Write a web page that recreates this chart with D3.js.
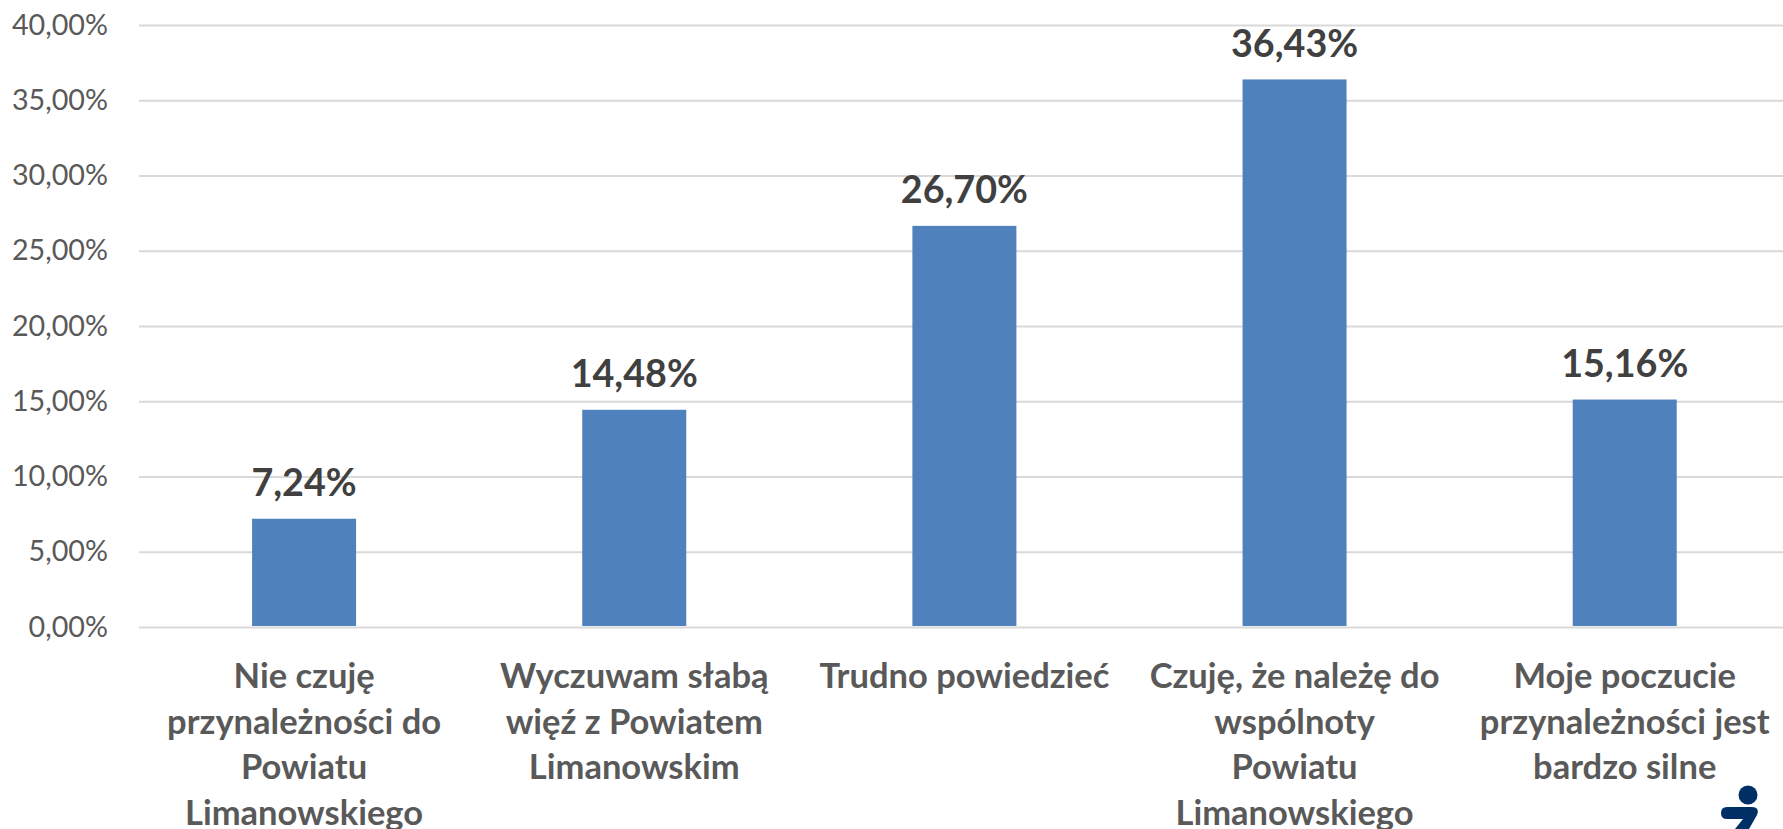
<!DOCTYPE html>
<!-- bar chart: sense of belonging to Powiat Limanowski -->
<html>
<head>
<meta charset="utf-8">
<style>
  html, body { margin: 0; padding: 0; background: #fff; overflow: hidden; }
  text { font-family: Lato, "Open Sans", sans-serif; }
</style>
</head>
<body>
<div id="graph_div"></div>

<script src="https://d3js.org/d3.v7.min.js"></script>

<script>

// data
const categories = [
  ["Nie czuję", "przynależności do", "Powiatu", "Limanowskiego"],
  ["Wyczuwam słabą", "więź z Powiatem", "Limanowskim"],
  ["Trudno powiedzieć"],
  ["Czuję, że należę do", "wspólnoty", "Powiatu", "Limanowskiego"],
  ["Moje poczucie", "przynależności jest", "bardzo silne"]
];
const values = [7.24, 14.48, 26.70, 36.43, 15.16];
const value_labels = ["7,24%", "14,48%", "26,70%", "36,43%", "15,16%"];
const y_ticks = [0, 5, 10, 15, 20, 25, 30, 35, 40];

let container_width = 1783,
    container_height = 829,
    margin = {top: 25, left: 139, bottom: 627};

let svg = d3.select("#graph_div")
  .append("svg")
    .attr("width", container_width)
    .attr("height", container_height)
    .style("display", "block");

let x = d3.scaleBand()
  .domain(d3.range(categories.length))
  .range([margin.left, margin.left + 1650.8])
  .paddingInner(0.685)
  .paddingOuter(0.3425);

let y = d3.scaleLinear()
  .domain([0, 40])
  .range([margin.bottom, margin.top]);

// y axis with gridlines
let y_axis = svg.append("g")
  .attr("id", "y_axis")
  .attr("transform", "translate(" + margin.left + ",0)")
  .call(d3.axisLeft(y)
    .tickValues(y_ticks)
    .tickSize(-(container_width - margin.left))
    .tickPadding(31)
    .tickFormat(function(d){ return d3.format(".2f")(d).replace(".", ",") + "%"; }));

y_axis.select(".domain").remove();
y_axis.selectAll("line")
  .attr("stroke", "#d9d9d9")
  .attr("stroke-width", 2);
y_axis.selectAll("text")
  .attr("fill", "#595959")
  .style("font-size", "28.7px")
  .style("font-family", "Lato, sans-serif");

// bars
svg.append("g")
  .selectAll("rect")
  .data(values)
  .enter()
  .append("rect")
    .attr("x", function(d, i){ return x(i); })
    .attr("y", function(d){ return y(d) + 0.7; })
    .attr("width", x.bandwidth())
    .attr("height", function(d){ return y(0) - y(d) - 1.7; })
    .attr("fill", "#4f81bd");

// value labels
svg.append("g")
  .selectAll("text")
  .data(values)
  .enter()
  .append("text")
    .attr("x", function(d, i){ return x(i) + x.bandwidth() / 2; })
    .attr("y", function(d){ return y(d) - 22; })
    .attr("text-anchor", "middle")
    .attr("font-size", 37.7)
    .attr("font-weight", 700)
    .attr("fill", "#404040")
    .text(function(d, i){ return value_labels[i]; });

// category labels
let cat_labels = svg.append("g")
  .selectAll("text")
  .data(categories)
  .enter()
  .append("text")
    .attr("text-anchor", "middle")
    .attr("font-size", 34.5)
    .attr("font-weight", 700)
    .attr("fill", "#595959");

cat_labels.selectAll("tspan")
  .data(function(d, i){ return d.map(function(line){ return {line: line, i: i}; }); })
  .enter()
  .append("tspan")
    .attr("x", function(d){ return x(d.i) + x.bandwidth() / 2; })
    .attr("y", function(d, j){ return 688 + j * 45.7; })
    .text(function(d){ return d.line; });

// small logo, bottom right corner
let logo = svg.append("g").attr("id", "logo");
logo.append("circle")
  .attr("cx", 1748)
  .attr("cy", 795)
  .attr("r", 9.5)
  .attr("fill", "#002f66");
logo.append("path")
  .attr("d", "M1727 807 H1752 Q1760 807 1757 815 L1749 829 H1735 L1743 819 H1727 Q1721 819 1721 813 Q1721 807 1727 807 Z")
  .attr("fill", "#002f66");

</script>
</body>
</html>
